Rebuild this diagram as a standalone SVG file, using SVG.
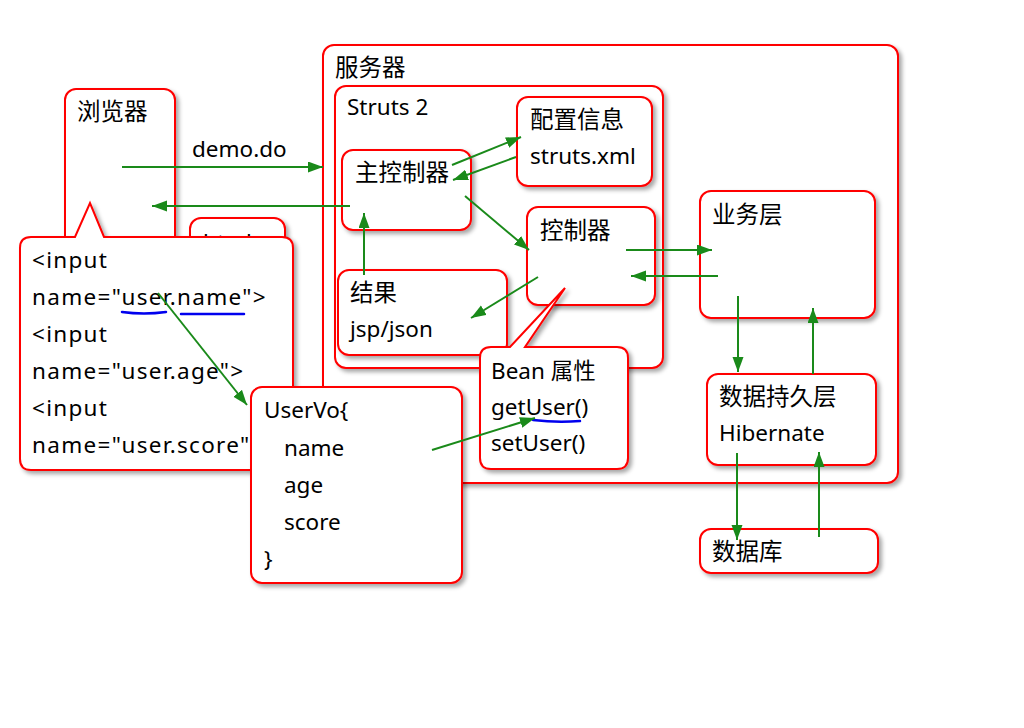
<svg xmlns="http://www.w3.org/2000/svg" width="1024" height="728" viewBox="0 0 1024 728">
<defs>
<filter id="sh" x="-10%" y="-10%" width="130%" height="130%">
<feDropShadow dx="3" dy="3" stdDeviation="2" flood-color="#000" flood-opacity="0.35"/>
</filter>
<marker id="ah" markerUnits="userSpaceOnUse" markerWidth="16" markerHeight="12" refX="15" refY="5.5" orient="auto">
<path d="M0,0 L15,5.5 L0,11 Z" fill="#1a8a1a"/>
</marker>
</defs>
<style>
.box{fill:#fff;stroke:#ff0000;stroke-width:2;filter:url(#sh)}
text{font-family:"Noto Sans","Noto Sans CJK SC",sans-serif;font-size:22.5px;fill:#000}
.cn{font-size:23.5px}
.sp{letter-spacing:1.3px}
.ar{stroke:#1a8a1a;stroke-width:2;fill:none;marker-end:url(#ah)}
.ul{stroke:#0000ee;stroke-width:2.5;fill:none;stroke-linecap:round}
</style>
<rect width="1024" height="728" fill="#fff"/>

<g id="browser">
<rect class="box" x="65" y="89" width="110" height="210" rx="11"/>
<text class="cn" x="77" y="120">浏览器</text>
</g>
<g id="html">
<rect class="box" x="190" y="218" width="95" height="70" rx="11"/>
<text x="203" y="250">html</text>
</g>
<g id="server">
<rect class="box" x="323" y="45" width="575" height="438" rx="11"/>
<text class="cn" x="335" y="76">服务器</text>
</g>
<g id="struts">
<rect class="box" x="335" y="86" width="328" height="282" rx="11"/>
<text x="347" y="115">Struts 2</text>
</g>
<g id="main-controller">
<rect class="box" x="342" y="150" width="129" height="80" rx="11"/>
<text class="cn" x="355" y="181">主控制器</text>
</g>
<g id="config">
<rect class="box" x="517" y="97" width="135" height="89" rx="11"/>
<text class="cn" x="530" y="128">配置信息</text>
<text x="530" y="164">struts.xml</text>
</g>
<g id="controller">
<rect class="box" x="527" y="207" width="128" height="98" rx="11"/>
<text class="cn" x="540" y="239">控制器</text>
</g>
<g id="result">
<rect class="box" x="338" y="270" width="169" height="85" rx="11"/>
<text class="cn" x="350" y="301">结果</text>
<text x="350" y="337">jsp/json</text>
</g>
<g id="business">
<rect class="box" x="700" y="191" width="175" height="127" rx="11"/>
<text class="cn" x="712" y="223">业务层</text>
</g>
<g id="persistence">
<rect class="box" x="707" y="374" width="169" height="91" rx="11"/>
<text class="cn" x="719" y="405">数据持久层</text>
<text x="719" y="441">Hibernate</text>
</g>
<g id="database">
<rect class="box" x="700" y="529" width="178" height="44" rx="11"/>
<text class="cn" x="712" y="560">数据库</text>
</g>
<g id="input-callout">
<path class="box" d="M31,237 L75,237 L90,203 L104,237 L282,237 Q293,237 293,248 L293,459 Q293,470 282,470 L31,470 Q20,470 20,459 L20,248 Q20,237 31,237 Z"/>
<text class="sp" x="32" y="268">&lt;input</text>
<text class="sp" x="32" y="305">name="user.name"&gt;</text>
<text class="sp" x="32" y="342">&lt;input</text>
<text class="sp" x="32" y="379">name="user.age"&gt;</text>
<text class="sp" x="32" y="416">&lt;input</text>
<text class="sp" x="32" y="453">name="user.score"</text>
<path class="ul" d="M122,312 Q144,315 166,312"/>
<path class="ul" d="M181,314 L244,314"/>
</g>
<g id="bean-callout">
<path class="box" d="M491,347 L510,347 L565,288 L525,347 L617,347 Q628,347 628,358 L628,458 Q628,469 617,469 L491,469 Q480,469 480,458 L480,358 Q480,347 491,347 Z"/>
<text x="491" y="379">Bean 属性</text>
<text x="491" y="415">getUser()</text>
<text x="491" y="451">setUser()</text>
<path class="ul" d="M533,420 Q557,423 580,421"/>
</g>
<g id="uservo">
<rect class="box" x="251" y="387" width="211" height="196" rx="11"/>
<text x="264" y="418">UserVo{</text>
<text x="284" y="456">name</text>
<text x="284" y="493">age</text>
<text x="284" y="530">score</text>
<text x="264" y="567">}</text>
</g>

<g id="connectors">
<line class="ar" x1="122" y1="167" x2="323" y2="167"/>
<text x="192" y="157">demo.do</text>
<line class="ar" x1="350" y1="206" x2="152" y2="206"/>
<line class="ar" x1="452" y1="165" x2="521" y2="137"/>
<line class="ar" x1="516" y1="157" x2="453" y2="180"/>
<line class="ar" x1="465" y1="196" x2="529" y2="250"/>
<line class="ar" x1="538" y1="277" x2="471" y2="318"/>
<line class="ar" x1="364" y1="275" x2="364" y2="213"/>
<line class="ar" x1="626" y1="250" x2="712" y2="250"/>
<line class="ar" x1="718" y1="276" x2="631" y2="276"/>
<line class="ar" x1="738" y1="296" x2="738" y2="372"/>
<line class="ar" x1="813" y1="374" x2="813" y2="308"/>
<line class="ar" x1="737" y1="453" x2="737" y2="540"/>
<line class="ar" x1="819" y1="537" x2="819" y2="452"/>
<line class="ar" x1="158" y1="293" x2="247" y2="405"/>
<line class="ar" x1="432" y1="450" x2="535" y2="418"/>
</g>
</svg>
